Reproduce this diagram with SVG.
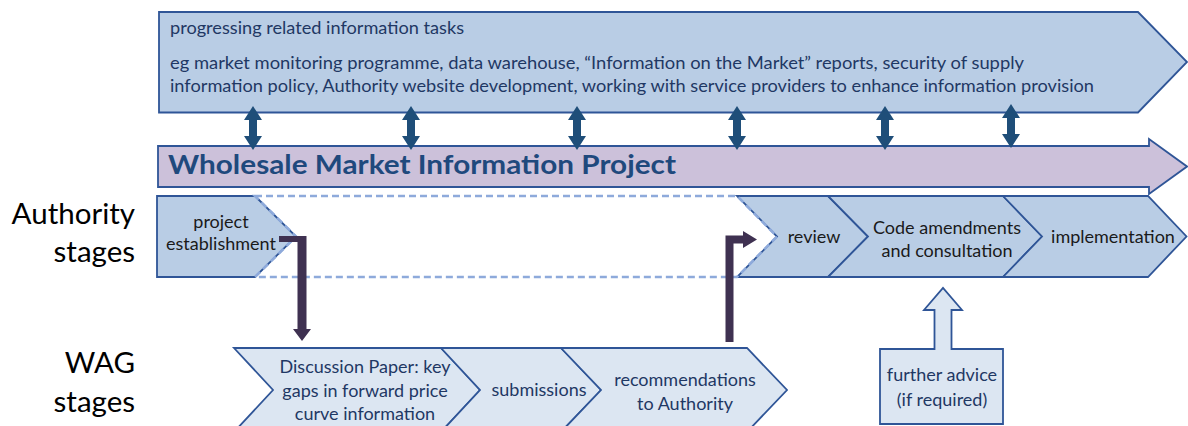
<svg xmlns="http://www.w3.org/2000/svg" xmlns:xlink="http://www.w3.org/1999/xlink" width="1188" height="426" viewBox="0 0 1188 426">
  <style>
    .t { font-family: Lato, "Open Sans", "Liberation Sans", sans-serif; }
    .shape { stroke: #2f5597; stroke-width: 1.8; stroke-linejoin: miter; }
    .auth { fill: #b9cde5; }
    .wag { fill: #dce6f2; }
    .navy { fill: #1f3864; }
    .ink { fill: #1a1a1a; }
    .node { font-size: 18px; text-anchor: middle; }
    .side { font-size: 29.5px; fill: #000; text-anchor: end; }
    .dash { fill: none; stroke: #8eaadb; stroke-width: 2.6; stroke-dasharray: 7 4; }
    .link { fill: #3f3151; }
    .dbl { fill: #1f4e79; }
  </style>
  <defs>
    <!-- two-headed vertical arrow, 44 px tall, centred on x=0 -->
    <path id="dblArrow" d="M0,0 L9,14 L4,14 L4,30 L9,30 L0,44 L-9,30 L-4,30 L-4,14 L-9,14 Z"/>
  </defs>

  <rect width="1188" height="426" fill="#ffffff"/>

  <!-- side labels -->
  <g id="labels" class="t">
    <text class="side" x="135" y="224">Authority</text>
    <text class="side" x="135" y="262">stages</text>
    <text class="side" x="135" y="373">WAG</text>
    <text class="side" x="135" y="412">stages</text>
  </g>

  <!-- information tasks banner -->
  <g id="info-tasks">
    <polygon class="shape auth" points="159,12 1138,12 1187,62 1138,112.5 159,112.5"/>
    <text class="t navy" x="170" y="34" font-size="17" textLength="294" lengthAdjust="spacingAndGlyphs">progressing related information tasks</text>
    <text class="t navy" x="170" y="69" font-size="17" textLength="854" lengthAdjust="spacingAndGlyphs">eg market monitoring programme, data warehouse, “Information on the Market” reports, security of supply</text>
    <text class="t navy" x="170" y="92" font-size="17" textLength="924" lengthAdjust="spacingAndGlyphs">information policy, Authority website development, working with service providers to enhance information provision</text>
  </g>

  <!-- project bar -->
  <g id="project">
    <polygon class="shape" fill="#ccc1da" points="158,146 1149,146 1149,139 1187,166.5 1149,194 1149,187 158,187"/>
    <text class="t" x="168" y="174" font-size="27" font-weight="bold" fill="#1f497d" textLength="508" lengthAdjust="spacingAndGlyphs">Wholesale Market Information Project</text>
  </g>

  <!-- Authority stages -->
  <g id="project-establishment">
    <polygon class="shape auth" points="157,196 255,196 296,236.5 255,277 157,277"/>
    <text class="t ink node" x="221" y="228">project</text>
    <text class="t ink node" x="221" y="250">establishment</text>
  </g>
  <g id="review">
    <polygon class="shape auth" points="737,196 828,196 868,236.5 828,277 737,277 777,236.5"/>
    <text class="t ink node" x="814" y="243">review</text>
  </g>
  <g id="code-amendments">
    <polygon class="shape auth" points="828,196 1003,196 1042,236.5 1003,277 828,277 868,236.5"/>
    <text class="t ink node" x="947" y="234">Code amendments</text>
    <text class="t ink node" x="947" y="257">and consultation</text>
  </g>
  <g id="implementation">
    <polygon class="shape auth" points="1003,196 1148,196 1186.5,236.5 1148,277 1003,277 1042,236.5"/>
    <text class="t ink node" x="1113" y="243">implementation</text>
  </g>

  <!-- WAG involvement period -->
  <g id="wag-period">
    <polygon class="dash" points="255,196 737,196 777,236.5 737,277 255,277 296,236.5"/>
  </g>

  <!-- WAG stages -->
  <g id="discussion-paper">
    <polygon class="shape wag" points="234,348 441,348 480,390 441,432 234,432 273,390"/>
    <text class="t navy node" x="365" y="373">Discussion Paper: key</text>
    <text class="t navy node" x="365" y="397">gaps in forward price</text>
    <text class="t navy node" x="365" y="420">curve information</text>
  </g>
  <g id="submissions">
    <polygon class="shape wag" points="441,348 561,348 601,390 561,432 441,432 480,390"/>
    <text class="t navy node" x="539" y="396">submissions</text>
  </g>
  <g id="recommendations">
    <polygon class="shape wag" points="561,348 747,348 787,390 747,432 561,432 601,390"/>
    <text class="t navy node" x="685" y="386">recommendations</text>
    <text class="t navy node" x="685" y="410">to Authority</text>
  </g>
  <g id="further-advice">
    <polygon class="shape wag" points="880,424 880,349 934.5,349 934.5,310 924,310 943,288 962,310 951.5,310 951.5,349 1003,349 1003,424"/>
    <text class="t navy node" x="942" y="381">further advice</text>
    <text class="t navy node" x="942" y="406">(if required)</text>
  </g>

  <!-- connectors -->
  <g id="connectors">
    <use xlink:href="#dblArrow" class="dbl" x="253" y="106"/>
    <use xlink:href="#dblArrow" class="dbl" x="411" y="106"/>
    <use xlink:href="#dblArrow" class="dbl" x="577" y="106"/>
    <use xlink:href="#dblArrow" class="dbl" x="737" y="106"/>
    <use xlink:href="#dblArrow" class="dbl" x="885" y="106"/>
    <use xlink:href="#dblArrow" class="dbl" x="1011" y="104"/>
    <!-- project establishment down to the discussion paper -->
    <polygon class="link" points="279,236 306.5,236 306.5,329 311,329 302,341 293,329 297.5,329 297.5,242 279,242"/>
    <!-- recommendations up to review -->
    <polygon class="link" points="725.5,342 725.5,235.5 743,235.5 743,231 757,239.5 743,248 743,243.5 733.5,243.5 733.5,342"/>
  </g>
</svg>
